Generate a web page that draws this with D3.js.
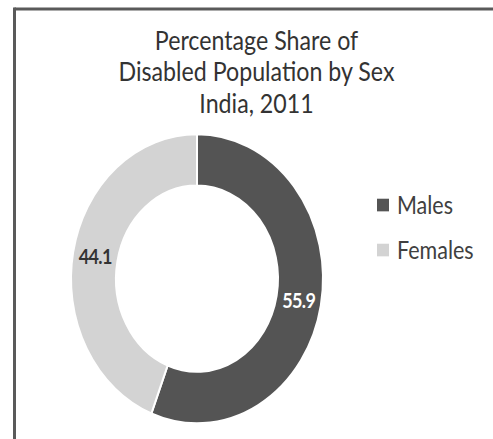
<!DOCTYPE html>
<html>
<head>
<meta charset="utf-8">
<script src="https://cdn.jsdelivr.net/npm/d3@7"></script>
<style>
  html, body { margin: 0; padding: 0; background: #fff; }
  svg { display: block; }
  text { font-family: Lato, "Open Sans", sans-serif; }
</style>
</head>
<body>
<script>
const categories = ["Males", "Females"];
const values = [55.9, 44.1];
const labels = ["55.9", "44.1"];
const titleLines = ["Percentage Share of", "Disabled Population by Sex", "India, 2011"];
const colors = ["#545454", "#d3d3d3"];

const W = 493, H = 439, SY = 1.148;
const svg = d3.select("body").append("svg").attr("width", W).attr("height", H);
const g = svg.append("g").attr("transform", `scale(1,${SY})`);

// frame (top and left edges visible)
g.append("line").attr("x1", 14.5).attr("x2", W).attr("y1", 7.8).attr("y2", 7.8)
  .attr("stroke", "#5a5a5a").attr("stroke-width", 2.6);
g.append("line").attr("x1", 14.5).attr("x2", 14.5).attr("y1", 6.5).attr("y2", H / SY)
  .attr("stroke", "#5a5a5a").attr("stroke-width", 3);

// title
g.append("text").attr("text-anchor", "middle").attr("fill", "#333").attr("font-size", 23.2)
  .selectAll("tspan").data(titleLines).join("tspan")
  .attr("x", 256.5).attr("y", (d, i) => 43.6 + i * 27.4).text(d => d);

// donut
const cx = 197, cy = 242.8, rOut = 126, rIn = 81;
const pie = d3.pie().sort(null).value(d => d)(values);
const arc = d3.arc().innerRadius(rIn).outerRadius(rOut);
const dg = g.append("g").attr("transform", `translate(${cx},${cy})`);
dg.selectAll("path").data(pie).join("path")
  .attr("d", arc).attr("fill", (d, i) => colors[i])
  .attr("stroke", "#fff").attr("stroke-width", 2);

dg.selectAll("text.lbl").data(pie).join("text").attr("class", "lbl")
  .attr("transform", d => `translate(${arc.centroid(d)})`)
  .attr("text-anchor", "middle").attr("dy", "0.36em")
  .attr("font-size", 18).attr("font-weight", "bold")
  .attr("fill", (d, i) => i === 0 ? "#ffffff" : "#333")
  .attr("letter-spacing", -0.6)
  .text((d, i) => labels[i]);

// legend
const lg = g.append("g");
const items = lg.selectAll("g").data(categories).join("g")
  .attr("transform", (d, i) => `translate(377,${178.6 + i * 39.2})`);
items.append("rect").attr("x", 0).attr("y", -5.5).attr("width", 12).attr("height", 11)
  .attr("fill", (d, i) => colors[i]);
items.append("text").attr("x", 20).attr("dy", "0.36em")
  .attr("font-size", 21.5).attr("fill", "#404040").text(d => d);
</script>
</body>
</html>
